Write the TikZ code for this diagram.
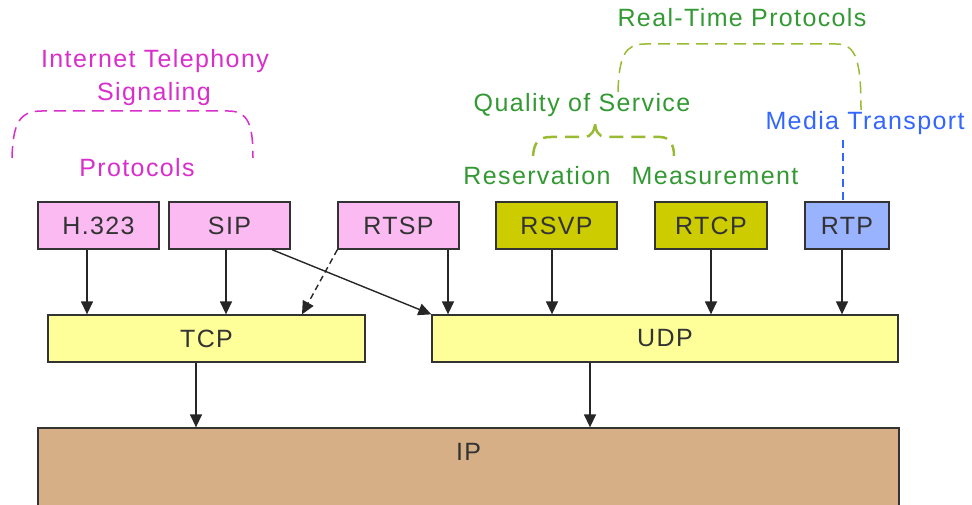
\documentclass[tikz,border=0pt]{standalone}
\usepackage{fontspec}
\setmainfont{Liberation Sans}[LetterSpace=5.5]
\usetikzlibrary{arrows.meta}
\definecolor{pinkfill}{HTML}{FBBAF2}
\definecolor{olivefill}{HTML}{CCCC00}
\definecolor{bluefill}{HTML}{99B3FF}
\definecolor{yellowfill}{HTML}{FFFF99}
\definecolor{ipfill}{HTML}{D6AF87}
\definecolor{boxline}{HTML}{333333}
\definecolor{magtext}{HTML}{D92ECB}
\definecolor{greentext}{HTML}{339933}
\definecolor{greendash}{HTML}{99BB33}
\definecolor{bluetext}{HTML}{3366FF}
\begin{document}
\begin{tikzpicture}[x=1pt,y=-1pt,
  txt/.style={font=\fontsize{25}{30}\selectfont, inner sep=0pt},
  box/.style={draw=boxline, line width=1.3pt, minimum height=47pt, inner sep=0pt, txt, text=black!80},
  pinkbox/.style={box, fill=pinkfill},
  olivebox/.style={box, fill=olivefill},
  bluebox/.style={box, fill=bluefill},
  yellowbox/.style={box, fill=yellowfill},
  ipbox/.style={box, fill=ipfill},
  lbl/.style={txt, anchor=base},
  arr/.style={-{Triangle[length=13pt,width=12pt]}, line width=1.4pt, black!85},
  pinkbr/.style={draw=magtext, line width=1.5pt, dash pattern=on 12pt off 7pt},
  greenbr/.style={draw=greendash, line width=1.5pt, dash pattern=on 12pt off 7pt},
  qosbr/.style={draw=greendash, line width=2.5pt, dash pattern=on 14pt off 8pt},
  bluedash/.style={draw=bluetext, line width=1.3pt, dash pattern=on 8pt off 5pt}
]
\useasboundingbox (0,0) rectangle (972,505);

% boxes
\node[pinkbox, minimum width=121pt] (h323) at (98.5,225.5) {H.323};
\node[pinkbox, minimum width=121pt] (sip) at (229.5,225.5) {SIP};
\node[pinkbox, minimum width=121pt] (rtsp) at (398.5,225.5) {RTSP};
\node[olivebox, minimum width=121pt] (rsvp) at (556.5,225.5) {RSVP};
\node[olivebox, minimum width=112pt] (rtcp) at (711,225.5) {RTCP};
\node[bluebox, minimum width=84pt] (rtp) at (847,225.5) {RTP};
\node[yellowbox, minimum width=317pt] (tcp) at (206.5,338.5) {TCP};
\node[yellowbox, minimum width=466pt] (udp) at (665,338.5) {UDP};
\node[ipbox, minimum width=861pt, minimum height=80pt,
      label={[txt, text=black!80, anchor=base, yshift=-33pt]north:IP}] (ip) at (468.5,468) {};

% labels
\node[lbl, text=magtext] (itel) at (155,68) {Internet Telephony};
\node[lbl, text=magtext] (sig) at (154,101) {Signaling};
\node[lbl, text=magtext] (prot) at (137,177) {Protocols};
\node[lbl, text=greentext] (rtprot) at (742,27) {Real-Time Protocols};
\node[lbl, text=greentext] (qos) at (582,112) {Quality of Service};
\node[lbl, text=greentext] (resv) at (537,185) {Reservation};
\node[lbl, text=greentext] (meas) at (715,185) {Measurement};
\node[lbl, text=bluetext] (media) at (865,130) {Media Transport};

% brackets
\draw[pinkbr] (12,158) .. controls (13,122) and (20,111) .. (42,111) -- (228,111) .. controls (248,111) and (253,124) .. (253,158);
\draw[greenbr] (618,92) .. controls (619,56) and (625,44) .. (645,44) -- (836,44) .. controls (856,44) and (861,60) .. (861,110);
\draw[qosbr] (533,156) .. controls (534,142) and (539,137) .. (551,137) -- (584,137) .. controls (592,137) and (595,130) .. (595,121)
   .. controls (595,130) and (598,137) .. (606,137) -- (660,137) .. controls (670,137) and (674,145) .. (674,156);
\coordinate (mt) at (843,140);
\draw[bluedash] (mt) -- (843,0 |- rtp.north);

% arrows
\draw[arr] (87,0 |- h323.south) -- (87,0 |- tcp.north);
\draw[arr] (226,0 |- sip.south) -- (226,0 |- tcp.north);
\draw[arr] (272,0 |- sip.south) -- (udp.north west);
\draw[arr, dash pattern=on 6pt off 4pt] (rtsp.south west) -- (302,0 |- tcp.north);
\draw[arr] (448,0 |- rtsp.south) -- (448,0 |- udp.north);
\draw[arr] (552,0 |- rsvp.south) -- (552,0 |- udp.north);
\draw[arr] (711,0 |- rtcp.south) -- (711,0 |- udp.north);
\draw[arr] (842,0 |- rtp.south) -- (842,0 |- udp.north);
\draw[arr] (196,0 |- tcp.south) -- (196,0 |- ip.north);
\draw[arr] (590,0 |- udp.south) -- (590,0 |- ip.north);
\end{tikzpicture}
\end{document}
